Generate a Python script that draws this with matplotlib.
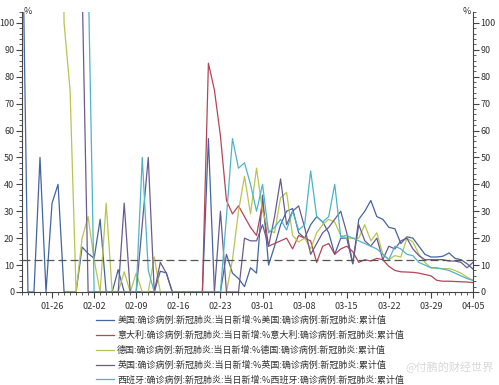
import numpy as np
import pandas as pd
import matplotlib
matplotlib.use("Agg")
import matplotlib.pyplot as plt
import matplotlib.dates as mdates
from matplotlib.ticker import MultipleLocator

plt.rcParams['font.family'] = ['Noto Sans CJK SC', 'DejaVu Sans']

dates = pd.date_range('2020-01-21', '2020-04-05', freq='D')
nan = np.nan

us = [150, 0, 0, 50, 0, 33, 40, 0, 0, 0,
      16.7, 14.3, 12.5, 27, 0, 0, 8.3, 0, 0, 0,
      0, 0, 0, 7.7, 7.1, 0, 0, 0, 0, 0,
      0, 57, 0, 0, 14, 7, 5, 2, 9, 7,
      36, 10, 17, 25, 30, 31, 22, 20, 25, 28,
      26, 22, 14, 20, 20, 10.5, 27, 30, 34, 28,
      27, 24, 23.5, 18, 20.5, 20, 17, 14, 13, 13,
      13.3, 14.5, 12.5, 12, 10.5, 8.5]
italy = [nan]*12 + [0]*18 + [0, 85, 75, 58, 34, 29, 32, 28, 24, 21,
      33, 17, 18, 19, 20, 16, 21, 20, 19, 11,
      17, 18, 14, 16, 17, 15, 11, 12, 11.5, 12.5,
      12, 9.5, 8, 7.5, 7.4, 7.3, 7, 6.5, 6, 4.3,
      4, 4, 3.9, 3.8, 3.7, 3.5]
germany = [nan]*6 + [300, 100, 75, 0,
      20, 28, 12, 0, 33, 0, 0, 7.5, 0, 7,
      0, 0, 13, 0, 0, 0, 0, 0, 0, 0,
      0, 0, 0, 0, 0, 12, 30, 43, 29, 46,
      30, 23, 22, 35, 37, 21, 18.6, 20, 16, 22,
      25, 27, 26, 21, 20, 20, 20, 25, 19, 22,
      14, 12, 13.5, 13, 20, 18.6, 14, 11, 9, 8.7,
      8.7, 8.7, 8, 7, 5.5, 4.3]
uk = [nan]*10 + [115, 0, 0, 0, 0, 0, 0, 33, 0, 0,
      25, 50, 0, 11, 7, 0, 0, 0, 0, 0,
      0, 0, 0, 30, 0, 0, 0, 20, 19, 19,
      25, 17, 28, 42, 25, 30, 32, 24, 14, 18,
      22, 24, 27, 30, 22, 10.5, 25, 19, 17, 20,
      12, 17, 16, 19, 20, 16, 13.5, 12, 12, 12,
      12, 11.5, 11.5, 11, 9, 11]
spain = [nan]*11 + [120, 0, 0, 0, 0, 0, 0, 0, 0,
      50, 8, 0, 0, 0, 0, 0, 0, 0, 0,
      0, 0, 0, 0, 28, 57, 46, 48, 40, 30,
      40, 22, 24, 27, 23, 30, 23, 25, 45, 28,
      26, 28, 40, 20.5, 21, 20, 19, 18, 17, 16,
      14, 12, 17, 16, 14, 13.5, 11, 10, 9, 9,
      8.5, 8, 7, 6, 5, 4.3]

labels = ['美国:确诊病例:新冠肺炎:当日新增:%美国:确诊病例:新冠肺炎:累计值',
          '意大利:确诊病例:新冠肺炎:当日新增:%意大利:确诊病例:新冠肺炎:累计值',
          '德国:确诊病例:新冠肺炎:当日新增:%德国:确诊病例:新冠肺炎:累计值',
          '英国:确诊病例:新冠肺炎:当日新增:%英国:确诊病例:新冠肺炎:累计值',
          '西班牙:确诊病例:新冠肺炎:当日新增:%西班牙:确诊病例:新冠肺炎:累计值']
colors = ['#44659f', '#b4455a', '#b9c451', '#6c5b8e', '#4db4c9']
ref_level = 12

fig = plt.figure(figsize=(4.99, 3.85), dpi=100)
ax = fig.add_axes([0.044, 0.2416, 0.904, 0.727])

for vals, c, lab in zip([us, italy, germany, uk, spain], colors, labels):
    ax.plot(dates, vals, color=c, lw=0.9, label=lab)

ax.axhline(ref_level, color='#555555', lw=0.9, ls=(0, (6.4, 3.2)))

ax.set_xlim(dates[0], dates[-1])
ax.set_ylim(0, 104)
ax.yaxis.set_major_locator(MultipleLocator(10))
ax.yaxis.set_minor_locator(MultipleLocator(2))
ax.set_yticks(range(0, 101, 10))
ax.xaxis.set_major_locator(mdates.WeekdayLocator(byweekday=mdates.SU))
ax.xaxis.set_minor_locator(mdates.DayLocator())
ax.xaxis.set_major_formatter(mdates.DateFormatter('%m-%d'))

for s in ['left', 'right', 'bottom']:
    ax.spines[s].set_color('#444444')
    ax.spines[s].set_linewidth(0.8)
ax.spines['top'].set_visible(False)

ax.tick_params(axis='y', which='both', left=True, right=True, labelleft=True,
               labelright=True, direction='out', colors='#444444', labelsize=6.5,
               labelcolor='#333333')
ax.tick_params(axis='y', which='major', length=4, width=0.8, pad=1.5)
ax.tick_params(axis='y', which='minor', length=2, width=0.6)
ax.tick_params(axis='x', which='major', length=4, width=0.8, direction='out',
               colors='#444444', labelsize=6.5, labelcolor='#333333', pad=3)
ax.tick_params(axis='x', which='minor', length=2, width=0.6, direction='out',
               colors='#444444')

ax.text(0.004, 102.5, '%', transform=ax.get_yaxis_transform(), ha='left', va='bottom',
        fontsize=6.5, color='#333333')
ax.text(0.996, 102.5, '%', transform=ax.get_yaxis_transform(), ha='right', va='bottom',
        fontsize=6.5, color='#333333')

fig.legend(loc='upper left', bbox_to_anchor=(96/499, 1 - 316/385), frameon=False,
           fontsize=6.5, handlelength=2.0, handletextpad=0.35, labelspacing=0.62,
           borderpad=0, borderaxespad=0, labelcolor='#333333')

fig.text(0.99, 0.03, '@付鹏的财经世界', ha='right', va='bottom', fontsize=8,
         color='#d8d8d8')

fig.savefig('out.png', dpi=100)
